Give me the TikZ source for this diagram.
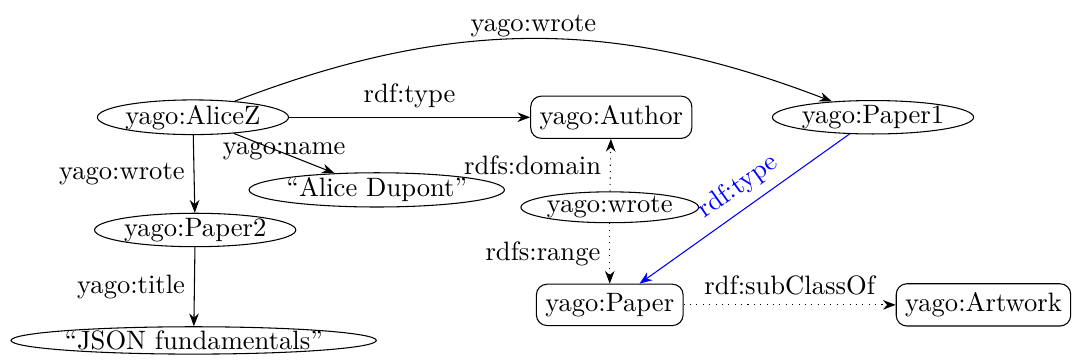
\documentclass[tikz,border=0pt]{standalone}
\usepackage{tikz}
\usetikzlibrary{arrows.meta,positioning,shapes.geometric}

\begin{document}
\begin{tikzpicture}[
  res/.style={ellipse, draw=black, inner sep=0pt},
  cls/.style={rectangle, rounded corners, draw=black},
  rel/.style={-{Stealth}},
  schema/.style={-{Stealth}, dotted},
  inferred/.style={-{Stealth}, blue}
]
\useasboundingbox (0,0) rectangle (14.21,4.76);
\node[res] (alice) at (2.55,3.21) {yago:AliceZ};
\node[cls] (author) at (8.08,3.21) {yago:Author};
\node[res] (paperone) at (11.54,3.21) {yago:Paper1};
\node[res] (dupont) at (4.98,2.25) {``Alice Dupont''};
\node[res] (papertwo) at (2.58,1.72) {yago:Paper2};
\node[res] (json) at (2.56,0.26) {``JSON fundamentals''};
\node[res] (wrote) at (8.06,2.02) {yago:wrote};
\node[cls] (paper) at (8.06,0.73) {yago:Paper};
\node[cls] (artwork) at (13.0,0.73) {yago:Artwork};

\draw[rel] (alice) to[bend left=21] node[above=-3pt]{yago:wrote} (paperone);
\draw[rel] (alice) -- node[above]{rdf:type} (author);
\draw[rel] (alice) -- node[midway, above=-6pt]{yago:name} (dupont);
\draw[rel] (alice) -- node[left]{yago:wrote} (papertwo);
\draw[rel] (papertwo) -- node[left]{yago:title} (json);
\draw[schema] (wrote) -- node[left]{rdfs:domain} (author);
\draw[schema] (wrote) -- node[left]{rdfs:range} (paper);
\draw[schema] (paper) -- node[above]{rdf:subClassOf} (artwork);
\draw[inferred] (paperone) -- node[above, sloped, pos=0.47]{rdf:type} (paper);
\end{tikzpicture}
\end{document}
